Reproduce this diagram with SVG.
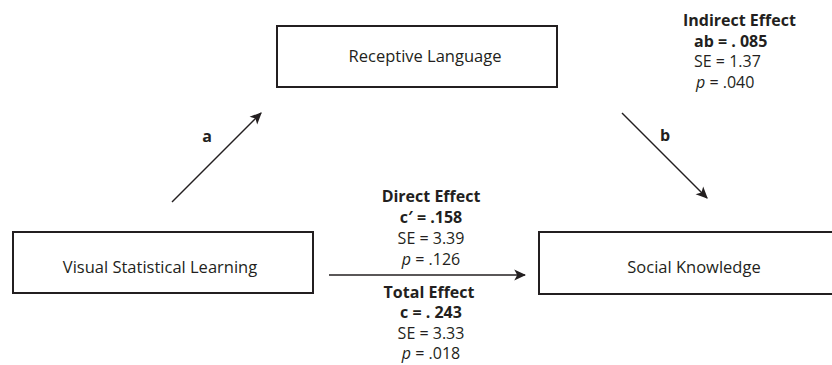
<svg xmlns="http://www.w3.org/2000/svg" width="832" height="365" viewBox="0 0 832 365">
<style>
text{font-family:"Open Sans","Liberation Sans",sans-serif;font-size:16px;fill:#231f20}
.n{font-size:16.5px}
.b{font-weight:bold}
.i{font-style:italic}
.m{text-anchor:middle}
.box{fill:#fff;stroke:#231f20;stroke-width:2}
.ln{stroke:#231f20;stroke-width:1.5;fill:none;marker-end:url(#ah)}
</style>
<defs>
<marker id="ah" viewBox="0 0 10 10" refX="9" refY="5" markerWidth="12" markerHeight="12" markerUnits="userSpaceOnUse" orient="auto">
<path d="M0,0.5 L10,5 L0,9.5 L2.5,5 z" fill="#231f20"/>
</marker>
</defs>
<rect width="832" height="365" fill="#fff"/>
<g id="connectors">
<line class="ln" x1="172" y1="202" x2="261" y2="113"/>
<line class="ln" x1="622" y1="113" x2="707" y2="198"/>
<line class="ln" x1="329" y1="275" x2="525" y2="275"/>
<text class="b m" x="207" y="142">a</text>
<text class="b m" x="665" y="141">b</text>
</g>
<g id="receptive">
<rect class="box" x="277" y="26" width="280" height="61"/>
<text class="m n" x="425" y="62">Receptive Language</text>
</g>
<g id="visual">
<rect class="box" x="13" y="232" width="300" height="61"/>
<text class="m n" x="160" y="273">Visual Statistical Learning</text>
</g>
<g id="social">
<rect class="box" x="539" y="232" width="300" height="62"/>
<text class="m n" x="694" y="273">Social Knowledge</text>
</g>
<g id="indirect">
<text class="b" x="683" y="26">Indirect Effect</text>
<text class="b" x="694" y="47">ab = . 085</text>
<text x="694" y="67">SE = 1.37</text>
<text x="696" y="88"><tspan class="i">p</tspan> = .040</text>
</g>
<g id="direct">
<text class="b m" x="431" y="202">Direct Effect</text>
<text class="b m" x="431" y="223">c′ = .158</text>
<text class="m" x="431" y="244">SE = 3.39</text>
<text class="m" x="431" y="265"><tspan class="i">p</tspan> = .126</text>
</g>
<g id="total">
<text class="b m" x="429" y="298">Total Effect</text>
<text class="b m" x="431" y="318">c = . 243</text>
<text class="m" x="431" y="339">SE = 3.33</text>
<text class="m" x="431" y="359"><tspan class="i">p</tspan> = .018</text>
</g>
</svg>
